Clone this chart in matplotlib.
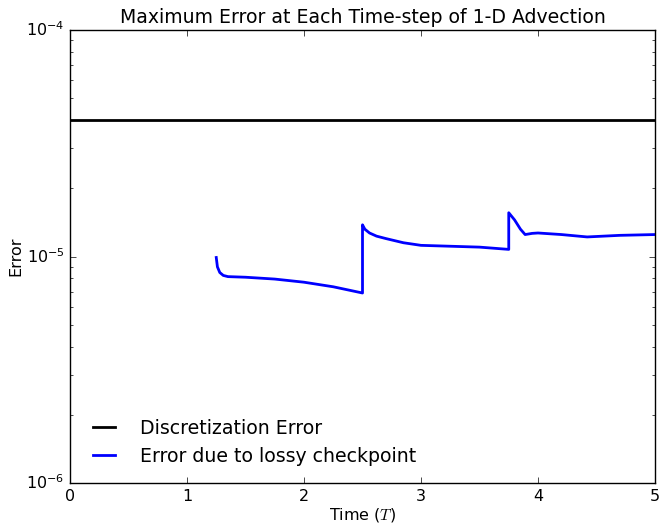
import matplotlib
matplotlib.use('Agg')
import matplotlib.pyplot as plt

# discretization error (constant)
disc_t = [0.0, 5.0]
disc_err = [4.0e-5, 4.0e-5]

# error due to lossy checkpoint
lossy_t = [1.25, 1.26, 1.28, 1.31, 1.35, 1.5, 1.75, 2.0, 2.25, 2.5,
           2.5, 2.52, 2.56, 2.62, 2.7, 2.85, 3.0, 3.25, 3.5, 3.75,
           3.75, 3.8, 3.85, 3.89, 3.95, 4.0, 4.2, 4.42, 4.7, 5.0]
lossy_err = [9.9e-6, 9.0e-6, 8.5e-6, 8.25e-6, 8.15e-6, 8.1e-6, 7.95e-6, 7.7e-6, 7.35e-6, 6.9e-6,
             1.38e-5, 1.32e-5, 1.27e-5, 1.23e-5, 1.2e-5, 1.15e-5, 1.12e-5, 1.11e-5, 1.1e-5, 1.075e-5,
             1.56e-5, 1.45e-5, 1.32e-5, 1.25e-5, 1.265e-5, 1.27e-5, 1.25e-5, 1.22e-5, 1.24e-5, 1.25e-5]

plt.style.use('classic')
plt.rcParams['font.size'] = 11.5
fig = plt.figure(figsize=(6.62, 5.24), dpi=100, facecolor='white')
ax = fig.add_axes([70 / 662, 41 / 524, 585 / 662, 453 / 524])

ax.plot(disc_t, disc_err, 'k-', lw=2, label='Discretization Error')
ax.plot(lossy_t, lossy_err, 'b-', lw=2, label='Error due to lossy checkpoint')
ax.set_yscale('log')
ax.set_xlim(0, 5)
ax.set_ylim(1e-6, 1e-4)
ax.set_xlabel('Time ($T$)', labelpad=2)
ax.set_ylabel('Error', labelpad=2)
ax.set_title('Maximum Error at Each Time-step of 1-D Advection', fontsize=13.6)
ax.legend(loc='lower left', frameon=False, fontsize=13.6, handlelength=1.8, handletextpad=1.0)

fig.savefig('out.png', dpi=100, facecolor='white')
